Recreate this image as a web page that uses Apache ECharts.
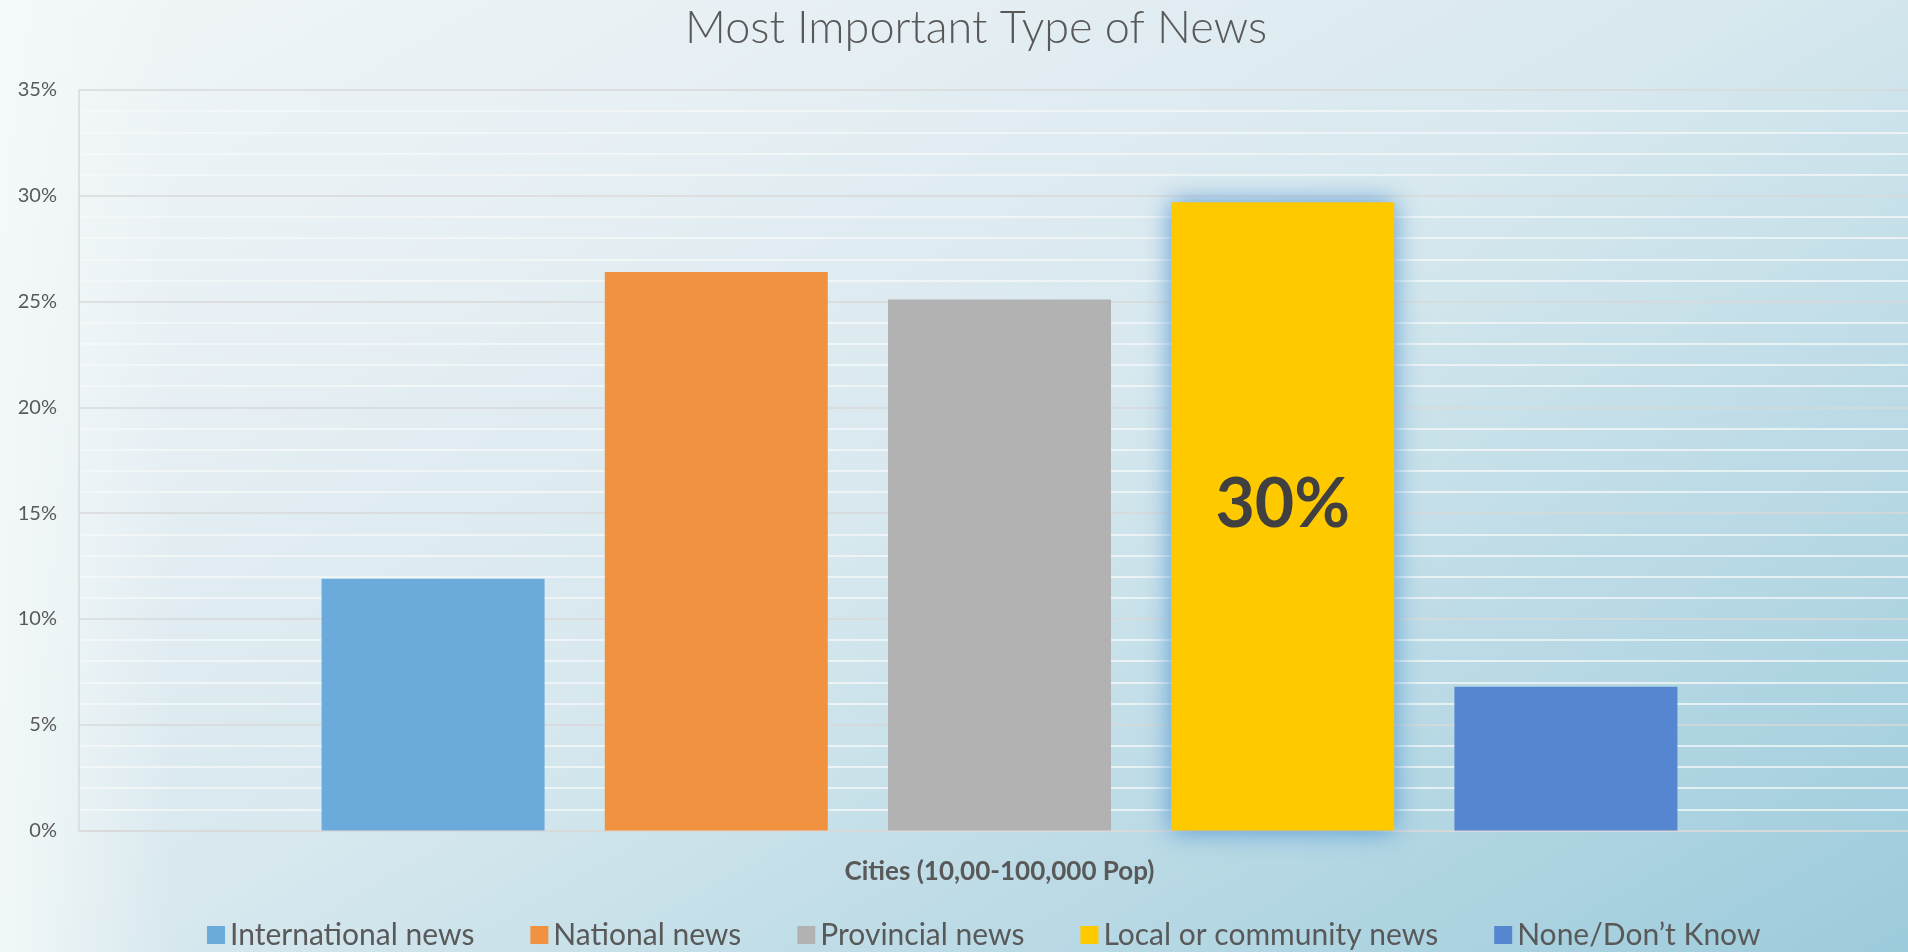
<!DOCTYPE html>
<html>
<head>
<meta charset="utf-8">
<script src="https://cdn.jsdelivr.net/npm/echarts@6/dist/echarts.min.js"></script>
<style>
  html, body { margin: 0; padding: 0; width: 100%; height: 100%; overflow: hidden; }
  #chart {
    /* plot area continues a little past the visible right edge */
    width: 1920px; height: 952px;
    background:
      linear-gradient(90deg, rgba(244,249,249,0.9) 0%, rgba(244,249,249,0) 9%),
      linear-gradient(150deg, #f1f6f7 0%, #e6eff4 25%, #d7e8ee 50%, #bcdbe6 72%, #9ccbdb 100%);
  }
</style>
</head>
<body>
<div id="chart"></div>
<script>
// Survey: most important type of news, cities of 10,000-100,000 population
const categories = ['Cities (10,00-100,000 Pop)'];
const seriesNames = ['International news', 'National news', 'Provincial news', 'Local or community news', 'None/Don\u2019t Know'];
const seriesValues = [11.9, 26.4, 25.1, 29.7, 6.8];   // percent
const seriesColors = ['#6aabdc', '#f19240', '#b2b2b2', '#ffc900', '#5586cf'];
const yTicks = { min: 0, max: 35, interval: 5 };
const highlighted = 'Local or community news';

const FONT = 'Lato, "Open Sans", sans-serif';
const TEXT = '#595959';

const chart = echarts.init(document.getElementById('chart'), null, { renderer: 'canvas' });

const series = seriesNames.map((name, i) => {
  const isHi = name === highlighted;
  return {
    name,
    type: 'bar',
    data: [seriesValues[i]],
    barWidth: 223,
    barGap: '27%',
    itemStyle: Object.assign({ color: seriesColors[i] }, isHi ? {
      shadowBlur: 24,
      shadowColor: 'rgba(75,145,210,0.9)'
    } : {}),
    label: isHi ? {
      show: true,
      position: 'inside',
      offset: [0, -11],
      formatter: p => Math.round(p.value) + '%',
      fontFamily: FONT,
      fontWeight: 'bold',
      fontSize: 68,
      color: '#404040'
    } : { show: false },
    emphasis: { disabled: true }
  };
});

chart.setOption({
  backgroundColor: 'transparent',
  animation: false,
  title: {
    text: 'Most Important Type of News',
    left: 680,
    top: 1,
    textStyle: { fontFamily: FONT, fontWeight: 300, fontSize: 45, color: TEXT }
  },
  legend: {
    data: seriesNames,
    top: 915,
    left: 202,
    icon: 'rect',
    itemWidth: 18,
    itemHeight: 18,
    itemGap: 56,
    textStyle: { fontFamily: FONT, fontSize: 30, color: TEXT }
  },
  grid: { left: 79, right: 0, top: 90, bottom: 121.5, containLabel: false },
  xAxis: {
    type: 'category',
    data: categories,
    axisLine: { show: true, lineStyle: { color: '#d9d9d9', width: 1.5 } },
    axisTick: { show: false },
    splitLine: { show: false },
    axisLabel: {
      margin: 28,
      fontFamily: FONT,
      fontWeight: 'bold',
      fontSize: 26,
      color: TEXT
    }
  },
  yAxis: {
    type: 'value',
    min: yTicks.min,
    max: yTicks.max,
    interval: yTicks.interval,
    axisLine: { show: true, lineStyle: { color: '#d9d9d9', width: 1.5 } },
    axisTick: { show: false },
    axisLabel: {
      margin: 22,
      formatter: '{value}%',
      fontFamily: FONT,
      fontSize: 20,
      color: TEXT
    },
    splitLine: { show: true, lineStyle: { color: '#d9d9d9', width: 1.5 } },
    minorTick: { show: false, splitNumber: 5 },
    minorSplitLine: { show: true, lineStyle: { color: '#f6f8f9', width: 1.6 } }
  },
  series
});
</script>
</body>
</html>
